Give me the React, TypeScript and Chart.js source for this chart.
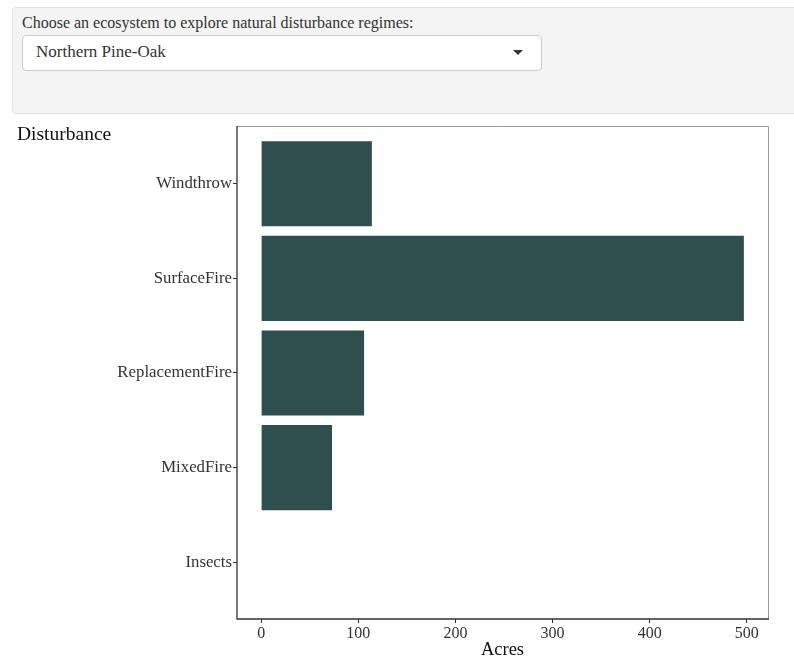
import React, { useEffect, useRef } from "react";
import { Chart, registerables } from "chart.js";

Chart.register(...registerables);

// ggplot order: first level at the bottom
const categories = ["Insects", "MixedFire", "ReplacementFire", "SurfaceFire", "Windthrow"];
const acres = [0, 73, 106, 497, 114];
const positions = [1, 2, 3, 4, 5];
const xTicks = [0, 100, 200, 300, 400, 500];

const SERIF = "'Liberation Serif', 'Times New Roman', serif";

const framePlugin = {
  id: "frame",
  afterDraw(chart: any) {
    const { ctx, chartArea } = chart;
    const { left, right, top, bottom } = chartArea;
    ctx.save();
    // top & right: light grey
    ctx.strokeStyle = "#9a9a9a";
    ctx.lineWidth = 1;
    ctx.beginPath();
    ctx.moveTo(left, top - 0.5);
    ctx.lineTo(right + 0.5, top - 0.5);
    ctx.lineTo(right + 0.5, bottom);
    ctx.stroke();
    // left & bottom: dark axis lines
    ctx.strokeStyle = "#333333";
    ctx.lineWidth = 1.3;
    ctx.beginPath();
    ctx.moveTo(left, top - 1);
    ctx.lineTo(left, bottom);
    ctx.lineTo(right + 1, bottom);
    ctx.stroke();
    // y-axis title drawn at the top-left
    ctx.fillStyle = "#111111";
    ctx.font = `19.5px ${SERIF}`;
    ctx.textBaseline = "alphabetic";
    ctx.textAlign = "left";
    ctx.fillText("Disturbance", 17, 25);
    ctx.restore();
  },
};

function BarChart() {
  const ref = useRef<HTMLCanvasElement | null>(null);
  useEffect(() => {
    if (!ref.current) return;
    const xMax = Math.max(...acres);
    const pad = 0.05 * xMax;
    const chart = new Chart(ref.current, {
      type: "bar",
      data: {
        datasets: [
          {
            data: categories.map((c, i) => ({ x: acres[i], y: positions[i] })),
            backgroundColor: "#2F4F4F",
            borderWidth: 0,
            barPercentage: 0.9,
            categoryPercentage: 1,
          } as any,
        ],
      },
      options: {
        indexAxis: "y",
        animation: false,
        responsive: false,
        maintainAspectRatio: false,
        layout: { padding: { left: 0, right: 26, top: 12, bottom: 0 } },
        plugins: { legend: { display: false }, tooltip: { enabled: false } },
        scales: {
          x: {
            type: "linear",
            offset: false,
            min: -pad,
            max: xMax + pad,
            afterBuildTicks: (s: any) => {
              s.ticks = xTicks.map((v) => ({ value: v }));
            },
            afterFit: (s: any) => {
              s.height = 38;
            },
            grid: { offset: false, drawOnChartArea: false, drawTicks: true, tickLength: 4, tickColor: "#333333", lineWidth: 1 },
            border: { display: false },
            ticks: {
              font: { family: SERIF, size: 16 },
              color: "#333333",
              padding: 1,
              maxRotation: 0,
              autoSkip: false,
            },
            title: {
              display: true,
              text: "Acres",
              color: "#111111",
              font: { family: SERIF, size: 18.5, lineHeight: 1 },
              padding: { top: 0, bottom: -2 },
            },
          },
          y: {
            type: "linear",
            offset: false,
            min: 0.4,
            max: categories.length + 0.6,
            afterBuildTicks: (s: any) => {
              s.ticks = positions.map((v) => ({ value: v }));
            },
            afterFit: (s: any) => {
              s.width = 237;
            },
            grid: { offset: false, drawOnChartArea: false, drawTicks: true, tickLength: 4, tickColor: "#333333", lineWidth: 1 },
            border: { display: false },
            ticks: {
              font: { family: SERIF, size: 16.8 },
              color: "#333333",
              padding: 1,
              autoSkip: false,
              callback: (v: any) => categories[positions.indexOf(Number(v))] ?? "",
            },
          },
        },
      } as any,
      plugins: [framePlugin],
    });
    return () => chart.destroy();
  }, []);
  return (
    <canvas
      ref={ref}
      width={794}
      height={542}
      style={{ position: "absolute", left: 0, top: 115, width: 794, height: 542 }}
    />
  );
}

export default function App() {
  return (
    <div
      style={{
        position: "absolute",
        left: 0,
        top: 0,
        width: 794,
        height: 657,
        overflow: "hidden",
        background: "#ffffff",
      }}
    >
      <div
        style={{
          position: "absolute",
          left: 12,
          top: 7,
          width: 800,
          height: 107,
          boxSizing: "border-box",
          background: "#f4f4f4",
          border: "1px solid #e3e3e3",
          borderRadius: 4,
        }}
      />
      <div
        style={{
          position: "absolute",
          left: 22,
          top: 15,
          font: `16px ${SERIF}`,
          lineHeight: "16px",
          color: "#333333",
          whiteSpace: "nowrap",
        }}
      >
        Choose an ecosystem to explore natural disturbance regimes:
      </div>
      <div
        style={{
          position: "absolute",
          left: 22,
          top: 35,
          width: 520,
          height: 36,
          boxSizing: "border-box",
          background: "#ffffff",
          border: "1px solid #cccccc",
          borderRadius: 4,
        }}
      />
      <div
        style={{
          position: "absolute",
          left: 36,
          top: 42.5,
          font: `17px ${SERIF}`,
          lineHeight: "17px",
          color: "#333333",
          whiteSpace: "nowrap",
        }}
      >
        Northern Pine-Oak
      </div>
      <div
        style={{
          position: "absolute",
          left: 512.5,
          top: 49.5,
          width: 0,
          height: 0,
          borderLeft: "5.5px solid transparent",
          borderRight: "5.5px solid transparent",
          borderTop: "5px solid #333333",
        }}
      />
      <BarChart />
    </div>
  );
}
